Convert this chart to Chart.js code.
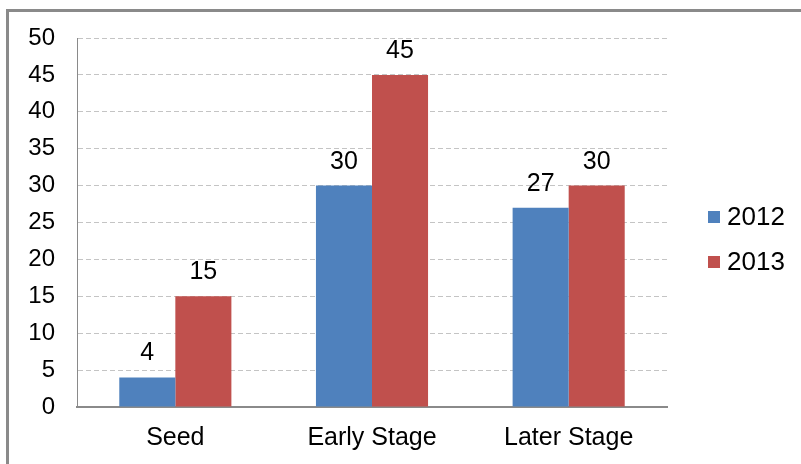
<!DOCTYPE html>
<html>
<head>
<meta charset="utf-8">
<script src="https://cdn.jsdelivr.net/npm/chart.js@4/dist/chart.umd.min.js"></script>
<style>
  html, body { margin: 0; padding: 0; background: #ffffff; overflow: hidden; }
  #wrap { position: relative; width: 801px; height: 464px; }
  #frame { position: absolute; left: 6px; top: 9px; width: 820px; height: 480px; border: 3px solid #8a8a8a; box-sizing: border-box; }
  #c { position: absolute; left: 0; top: 0; }
</style>
</head>
<body>
<div id="wrap">
  <div id="frame"></div>
  <canvas id="c" width="801" height="464"></canvas>
</div>
<script>
// Funding stages
const categories = ['Seed', 'Early Stage', 'Later Stage'];
const series2012 = [4, 30, 27];
const series2013 = [15, 45, 30];
const seriesNames = ['2012', '2013'];
const yTicks = [0, 5, 10, 15, 20, 25, 30, 35, 40, 45, 50];

const FONT = '"Liberation Sans", Arial, sans-serif';

// Value labels above each bar
const valueLabels = {
  id: 'valueLabels',
  afterDatasetsDraw(chart) {
    const ctx = chart.ctx;
    ctx.save();
    ctx.font = '25px ' + FONT;
    ctx.fillStyle = '#000000';
    ctx.textAlign = 'center';
    ctx.textBaseline = 'alphabetic';
    chart.data.datasets.forEach((ds, di) => {
      const meta = chart.getDatasetMeta(di);
      meta.data.forEach((bar, i) => {
        ctx.fillText(String(ds.data[i]), bar.x, bar.y - 17);
      });
    });
    ctx.restore();
  }
};

// Vertical legend to the right of the plot
const sideLegend = {
  id: 'sideLegend',
  afterDraw(chart) {
    const ctx = chart.ctx;
    const area = chart.chartArea;
    const x = area.right + 41;
    const gap = 45;
    const midY = 239.5;
    const n = chart.data.datasets.length;
    ctx.save();
    ctx.font = '26px ' + FONT;
    ctx.textAlign = 'left';
    ctx.textBaseline = 'middle';
    chart.data.datasets.forEach((ds, i) => {
      const cy = midY + (i - (n - 1) / 2) * gap;
      ctx.fillStyle = ds.backgroundColor;
      ctx.fillRect(x, cy - 6, 12, 12);
      ctx.fillStyle = '#000000';
      ctx.fillText(ds.label, x + 19, cy + 1);
    });
    ctx.restore();
  }
};

new Chart(document.getElementById('c'), {
  type: 'bar',
  data: {
    labels: categories,
    datasets: [
      { label: seriesNames[0], data: series2012, backgroundColor: '#4F81BD' },
      { label: seriesNames[1], data: series2013, backgroundColor: '#C0504D' }
    ]
  },
  options: {
    responsive: false,
    animation: false,
    devicePixelRatio: 1,
    layout: { padding: { top: 38, right: 134, bottom: 0, left: 0 } },
    datasets: { bar: { categoryPercentage: 0.57, barPercentage: 1.0 } },
    plugins: {
      legend: { display: false },
      tooltip: { enabled: false }
    },
    scales: {
      x: {
        grid: { display: false, drawTicks: false },
        border: { display: true, color: '#8a8a8a', width: 2 },
        ticks: { color: '#000000', font: { family: FONT, size: 25 }, padding: 16 },
        afterFit(scale) { scale.height = 57; }
      },
      y: {
        min: 0,
        max: 50,
        afterBuildTicks(scale) { scale.ticks = yTicks.map(v => ({ value: v })); },
        grid: { color: '#c4c4c4', lineWidth: 1, drawTicks: false },
        border: { display: true, color: '#8a8a8a', width: 1, dash: [5, 3] },
        ticks: { color: '#000000', font: { family: FONT, size: 24 }, padding: 22 },
        afterFit(scale) { scale.width = 77; }
      }
    }
  },
  plugins: [valueLabels, sideLegend]
});
</script>
</body>
</html>
